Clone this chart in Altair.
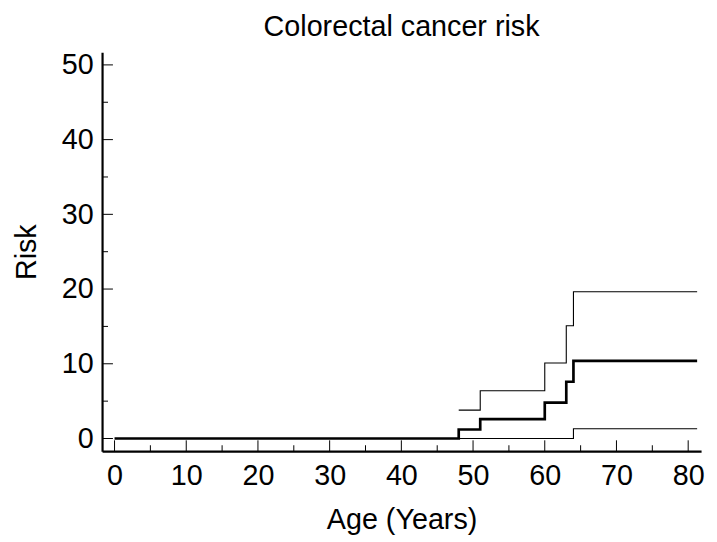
import altair as alt
import pandas as pd

# Step-function series (age in years, risk in %)
upper_age = [48, 51, 60, 63, 64, 81.25]
upper_risk = [3.8, 6.4, 10.1, 15.1, 19.65, 19.65]
mid_age = [0, 48, 51, 60, 63, 64, 81.25]
mid_risk = [0, 1.2, 2.6, 4.8, 7.6, 10.4, 10.4]
low_age = [48, 64, 81.25]
low_risk = [0, 1.3, 1.3]

x_major = [0, 10, 20, 30, 40, 50, 60, 70, 80]
x_minor = [5, 15, 25, 35, 45, 55, 65, 75]
y_major = [0, 10, 20, 30, 40, 50]
y_minor = [5, 15, 25, 35, 45]

W, H = 605, 403
FONT = "Liberation Sans"
FS = 29

thin_df = pd.concat([
    pd.DataFrame({"age": upper_age, "risk": upper_risk, "series": "upper"}),
    pd.DataFrame({"age": low_age, "risk": low_risk, "series": "lower"}),
])
mid_df = pd.DataFrame({"age": mid_age, "risk": mid_risk, "series": "estimate"})

xscale = alt.Scale(domain=[-1.74, 81.8], nice=False, zero=False)
yscale = alt.Scale(domain=[-1.7, 51.7], nice=False, zero=False)

xaxis = alt.Axis(values=x_major, ticks=False, grid=False, domainColor="black",
                 domainWidth=2.2, labelFontSize=FS, labelFont=FONT, labelColor="black",
                 labelPadding=11, title="Age (Years)", titleFontSize=FS, titleFont=FONT,
                 titleFontWeight="normal", titleColor="black", titlePadding=15,
                 format="d", labelFlush=False)
yaxis = alt.Axis(values=y_major, ticks=False, grid=False, domainColor="black",
                 domainWidth=2.2, labelFontSize=FS, labelFont=FONT, labelColor="black",
                 labelPadding=9, title="Risk", titleFontSize=FS, titleFont=FONT,
                 titleFontWeight="normal", titleColor="black", titlePadding=20,
                 format="d", labelFlush=False)

thin = alt.Chart(thin_df).mark_line(interpolate="step-after", color="black", strokeWidth=1.1).encode(
    x=alt.X("age:Q", scale=xscale, axis=xaxis),
    y=alt.Y("risk:Q", scale=yscale, axis=yaxis),
    detail="series:N",
)
thick = alt.Chart(mid_df).mark_line(interpolate="step-after", color="black", strokeWidth=2.7).encode(
    x=alt.X("age:Q", scale=xscale),
    y=alt.Y("risk:Q", scale=yscale),
)

xmaj = alt.Chart(pd.DataFrame({"v": x_major})).mark_rule(color="black", strokeWidth=1).encode(
    x=alt.X("v:Q", scale=xscale), y=alt.value(H), y2=alt.value(H - 11))
xmin = alt.Chart(pd.DataFrame({"v": x_minor})).mark_rule(color="black", strokeWidth=1).encode(
    x=alt.X("v:Q", scale=xscale), y=alt.value(H), y2=alt.value(H - 6))
ymaj = alt.Chart(pd.DataFrame({"v": y_major})).mark_rule(color="black", strokeWidth=1).encode(
    y=alt.Y("v:Q", scale=yscale), x=alt.value(0), x2=alt.value(11))
ymin = alt.Chart(pd.DataFrame({"v": y_minor})).mark_rule(color="black", strokeWidth=1).encode(
    y=alt.Y("v:Q", scale=yscale), x=alt.value(0), x2=alt.value(6))

chart = alt.layer(thin, thick, xmaj, xmin, ymaj, ymin).properties(
    width=W, height=H,
    title=alt.TitleParams("Colorectal cancer risk", fontSize=FS, font=FONT,
                          fontWeight="normal", color="black", anchor="middle", offset=9),
    autosize=alt.AutoSizeParams(type="none"),
    padding={"left": 95, "top": 42, "right": 8, "bottom": 82},
    background="white",
).configure_view(stroke=None)

chart.save("out.html", embed_options={"renderer": "svg", "actions": False})
